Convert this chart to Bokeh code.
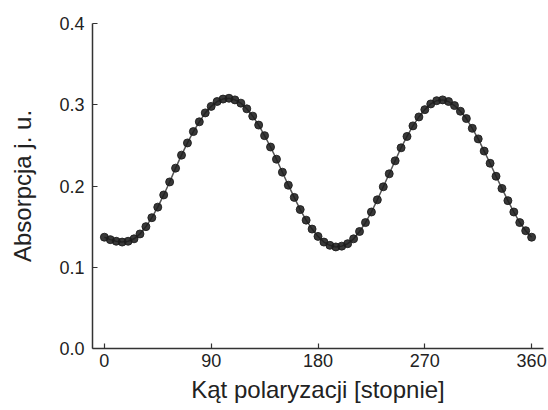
from bokeh.plotting import figure
from bokeh.models import FixedTicker, PrintfTickFormatter, Range1d
from bokeh.embed import file_html
from bokeh.resources import INLINE

# angle of polarisation [degrees]
angles = list(range(0, 361, 5))
# absorbance [a.u.]
absorb = [
    0.137, 0.134, 0.132, 0.131, 0.132, 0.135, 0.141, 0.150, 0.161, 0.174,
    0.189, 0.205, 0.222, 0.238, 0.253, 0.267, 0.279, 0.290, 0.298, 0.304,
    0.307, 0.308, 0.306, 0.302, 0.295, 0.286, 0.275, 0.262, 0.248, 0.233,
    0.217, 0.201, 0.186, 0.171, 0.158, 0.147, 0.138, 0.131, 0.127, 0.125,
    0.126, 0.129, 0.135, 0.144, 0.155, 0.168, 0.183, 0.199, 0.215, 0.231,
    0.247, 0.261, 0.274, 0.285, 0.294, 0.301, 0.305, 0.306, 0.304, 0.299,
    0.292, 0.283, 0.271, 0.258, 0.243, 0.228, 0.212, 0.197, 0.182, 0.168,
    0.155, 0.145, 0.137,
]
x_ticks = [0, 90, 180, 270, 360]
y_ticks = [0.0, 0.1, 0.2, 0.3, 0.4]

FONT = "Liberation Sans"

p = figure(width=548, height=410, output_backend="svg", toolbar_location=None,
           x_range=Range1d(-10, 370), y_range=Range1d(0, 0.4),
           min_border_left=92, min_border_right=5, min_border_top=23,
           min_border_bottom=62)
p.outline_line_color = None
p.xgrid.visible = False
p.ygrid.visible = False
p.background_fill_color = "white"
p.border_fill_color = "white"

p.line(angles, absorb, line_color="#555555", line_width=1.5)
p.scatter(angles, absorb, size=8, fill_color="#1c1c1c", line_color="#1c1c1c",
          fill_alpha=0.88, line_alpha=0.88)

for ax in (p.xaxis[0], p.yaxis[0]):
    ax.axis_line_color = "#333333"
    ax.axis_line_width = 1.5
    ax.major_tick_line_color = "#333333"
    ax.major_tick_line_width = 1.2
    ax.major_tick_in = 5
    ax.major_tick_out = 0
    ax.minor_tick_line_color = None
    ax.major_label_text_font = FONT
    ax.major_label_text_font_size = "18px"
    ax.major_label_text_color = "#222222"
    ax.axis_label_text_font = FONT
    ax.axis_label_text_font_size = "24px"
    ax.axis_label_text_font_style = "normal"
    ax.axis_label_text_color = "#222222"

p.xaxis.ticker = FixedTicker(ticks=x_ticks)
p.yaxis.ticker = FixedTicker(ticks=y_ticks)
p.yaxis.formatter = PrintfTickFormatter(format="%.1f")
p.xaxis.axis_label = "Kąt polaryzacji [stopnie]"
p.yaxis.axis_label = "Absorpcja j. u."
p.xaxis.major_label_standoff = 5
p.yaxis.major_label_standoff = 8
p.xaxis.axis_label_standoff = 6
p.yaxis.axis_label_standoff = 20

open("out.html", "w").write(file_html(p, INLINE))
